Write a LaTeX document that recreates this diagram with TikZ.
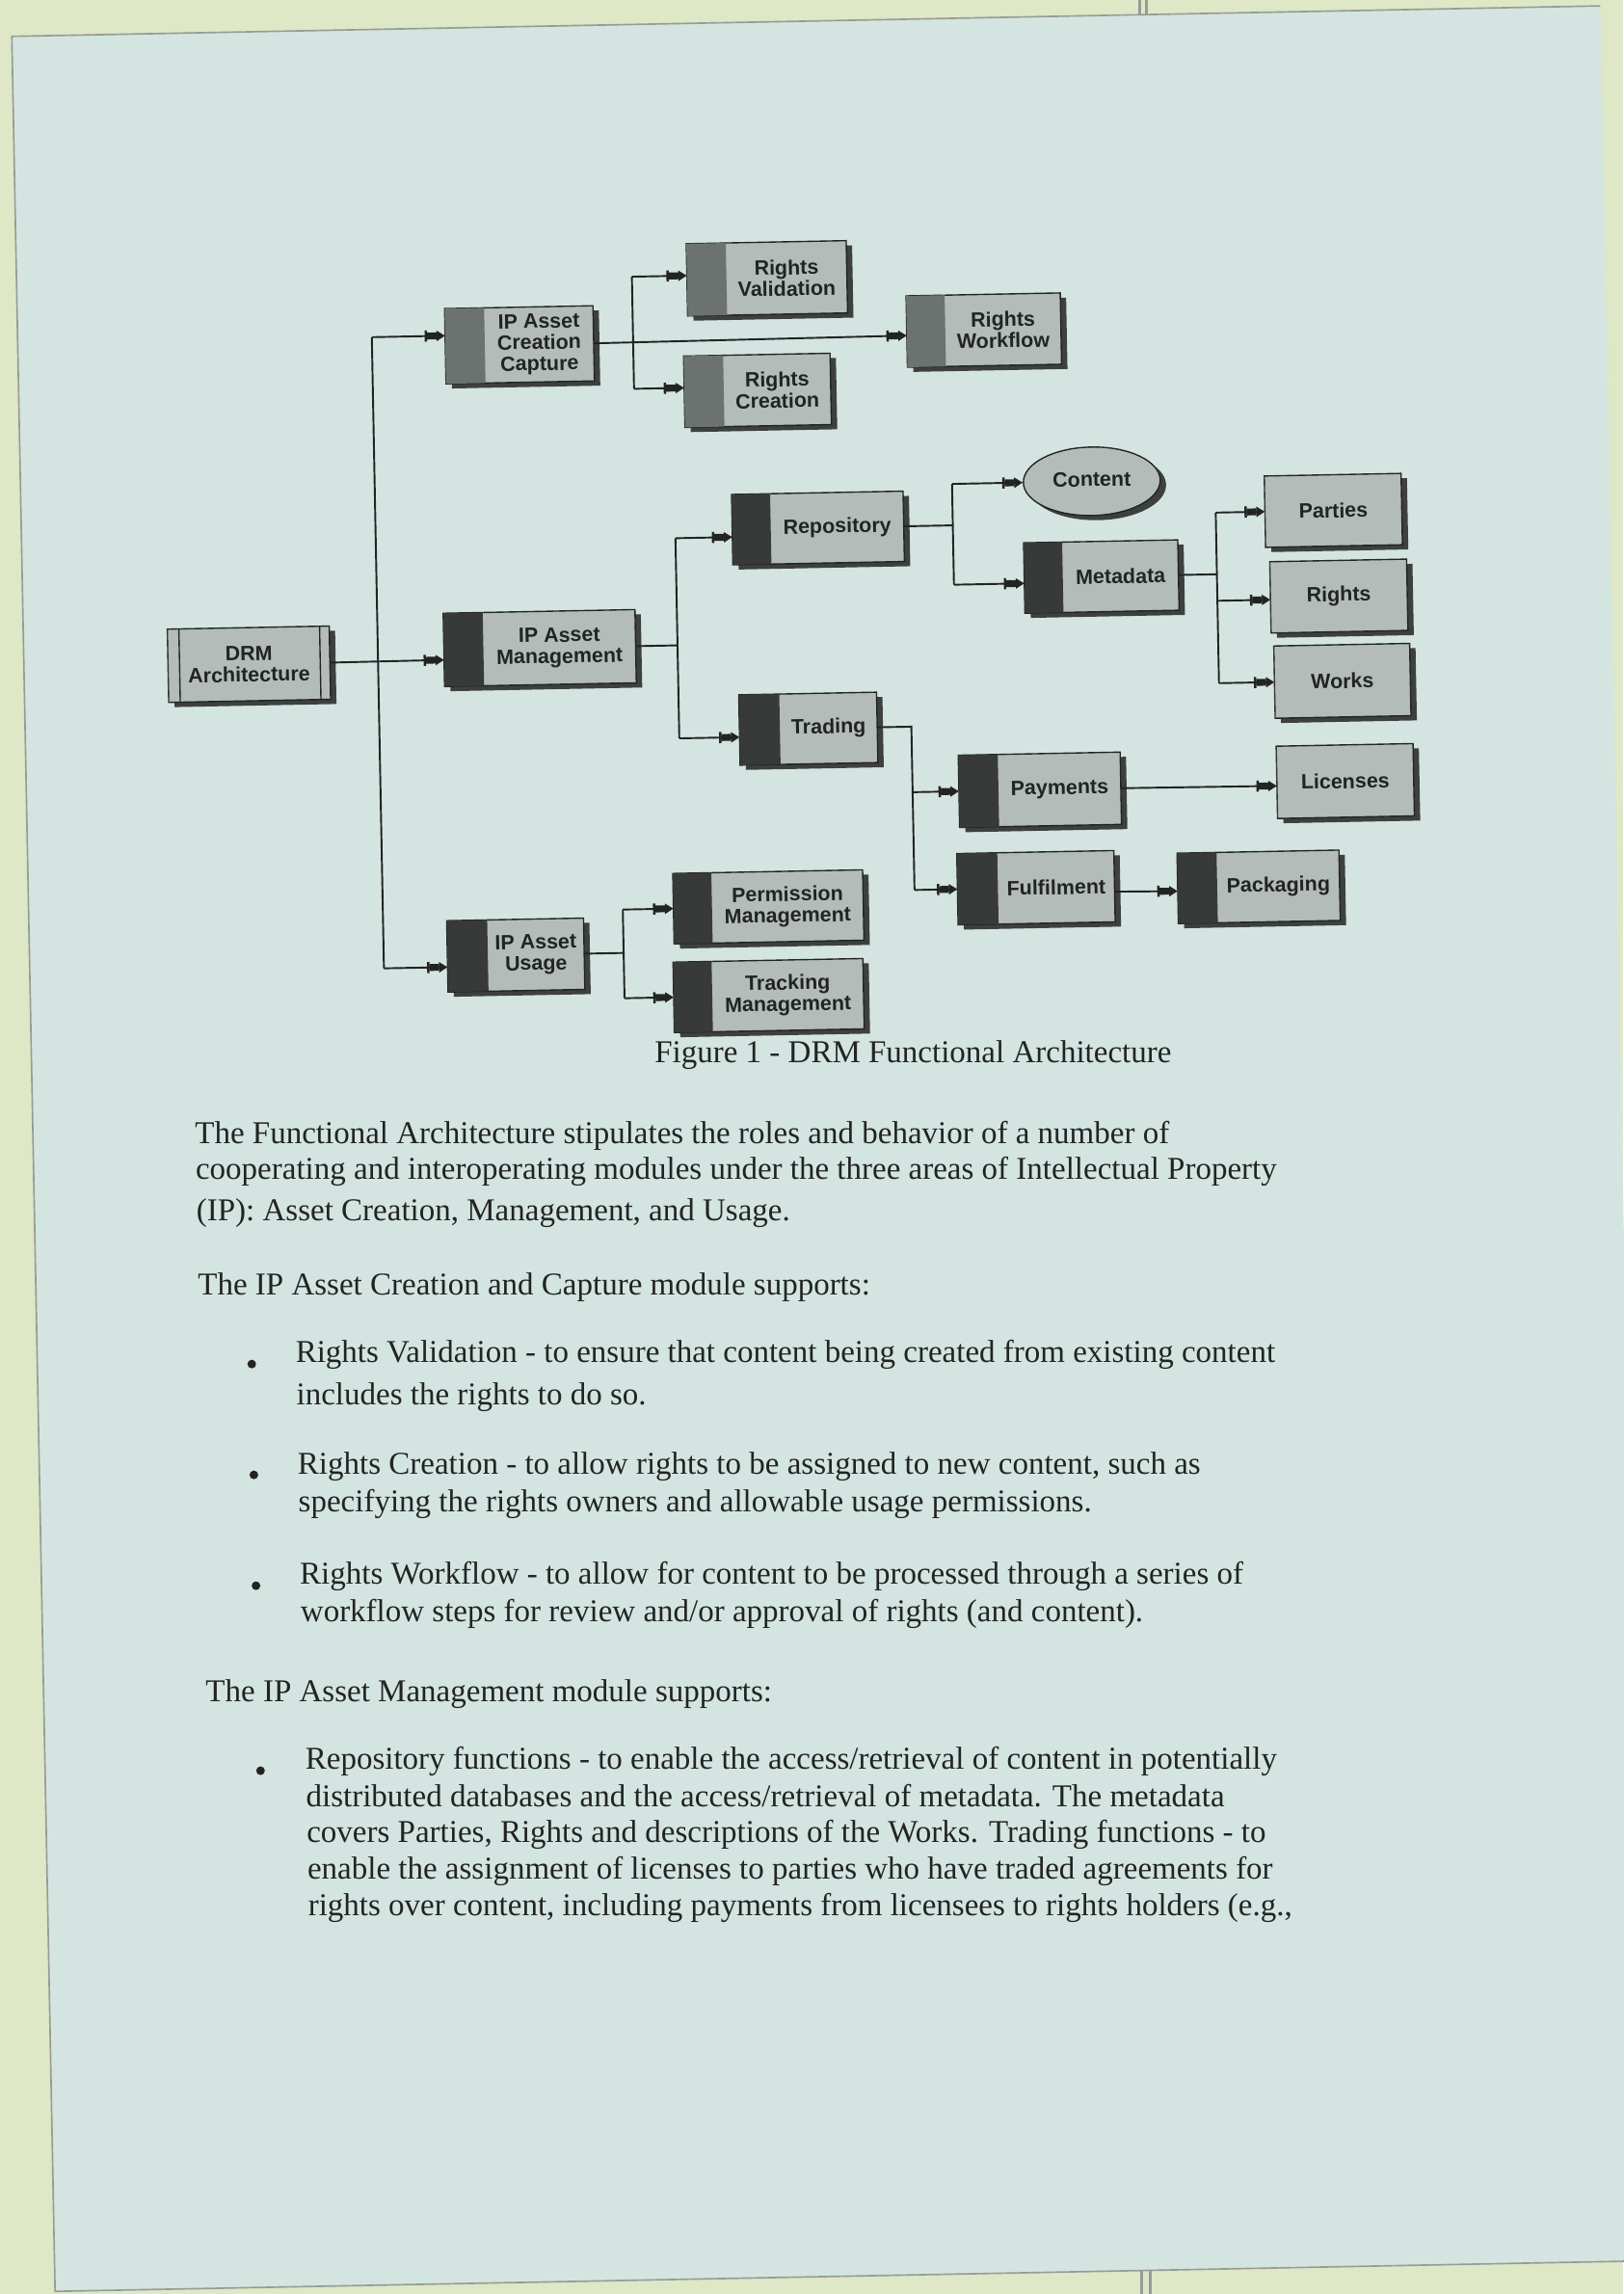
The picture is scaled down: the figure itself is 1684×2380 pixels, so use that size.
\documentclass[tikz,border=0pt]{standalone}
\usepackage{fontspec}
\setmainfont{Liberation Serif}
\newfontfamily\dsans{Liberation Sans}
\usetikzlibrary{arrows.meta,shapes.geometric}
\definecolor{marginc}{RGB}{222,231,198}
\definecolor{pagec}{RGB}{212,229,225}
\definecolor{facec}{RGB}{180,188,185}
\definecolor{darkc}{RGB}{56,58,58}
\definecolor{midc}{RGB}{108,114,112}
\definecolor{shadc}{RGB}{62,64,64}
\definecolor{inkc}{RGB}{34,36,36}
\definecolor{edgec}{RGB}{150,156,150}
\def\pxu{0.363636pt}
\tikzset{
  boxn/.style={shape=rectangle, inner sep=0pt, outer sep=0pt, transform shape},
  boxtext/.style={font=\dsans\bfseries\fontsize{7.8}{8}\selectfont, text=inkc, align=center, inner sep=0pt, transform shape},
  body/.style={font=\fontsize{12}{13.8}\selectfont, text=inkc, anchor=base west, inner sep=0pt},
  conn/.style={draw=inkc, line width=0.7pt},
  arr/.style={conn, -{Bar[width=4.2pt,line width=0.9pt]Rectangle[length=3.6pt,width=2.6pt]Triangle[length=3.2pt,width=3.8pt]}},
  bul/.style={fill=inkc},
}
% name, cx, cy, w, h, strip width, strip colour, text
\newcommand\drmbox[8]{%
  \fill[shadc] ({#2-#4/2+6},{#3-#5/2+5}) rectangle ({#2+#4/2+6},{#3+#5/2+5});
  \filldraw[fill=facec, draw=inkc, line width=0.5pt] ({#2-#4/2},{#3-#5/2}) rectangle ({#2+#4/2},{#3+#5/2});
  \fill[#7] ({#2-#4/2},{#3-#5/2}) rectangle ({#2-#4/2+#6},{#3+#5/2});
  \node[boxn, minimum width=#4*\pxu, minimum height=#5*\pxu] (#1) at (#2,#3) {};
  \node[boxtext] (#1t) at ({#2+#6/2},#3) {#8};
}
\begin{document}
\begin{tikzpicture}[x=0.363636pt, y=-0.363636pt]
\path[use as bounding box] (0,0) rectangle (1684,2380);
\fill[marginc] (0,0) rectangle (1684,2380);
\fill[edgec] (1181,0) rectangle (1184,22);
\fill[edgec] (1188,0) rectangle (1191,22);
\fill[edgec] (1183,2340) rectangle (1186,2380);
\fill[edgec] (1192,2340) rectangle (1195,2380);
\begin{scope}[rotate around={1.1:(842,1190)}]
  % page
  \fill[pagec] (34.5,22) rectangle (1683,2362);
  \draw[edgec, line width=0.6pt] (1683,22) -- (34.5,22) -- (34.5,2362) -- (1700,2362);

  % ---------- diagram boxes ----------
  \drmbox{drm}{268}{678}{168}{76}{0}{facec}{DRM\\Architecture}
  \draw[inkc, line width=0.5pt] (196,640) -- (196,716);
  \draw[inkc, line width=0.5pt] (342,640) -- (342,716);

  \drmbox{cre}{555}{352}{154}{78}{41}{midc}{IP Asset\\Creation\\Capture}
  \drmbox{mgt}{570}{667}{199}{76}{41}{darkc}{IP Asset\\Management}
  \drmbox{usg}{539}{985}{142}{74}{42}{darkc}{IP Asset\\Usage}
  \drmbox{perm}{802}{940}{197}{73}{40}{darkc}{Permission\\Management}
  \drmbox{trk}{800.5}{1032}{197}{73}{40}{darkc}{Tracking\\Management}
  \drmbox{rv}{813}{288}{166}{75}{41}{midc}{Rights\\Validation}
  \drmbox{rc}{801}{404}{152}{74}{41}{midc}{Rights\\Creation}
  \drmbox{rwf}{1037}{346}{160}{74}{40}{midc}{Rights\\Workflow}
  \drmbox{rep}{861}{548}{178}{73}{40}{darkc}{Repository}
  \drmbox{trd}{847}{756}{143}{73}{42}{darkc}{Trading}
  \drmbox{meta}{1154}{604}{160}{73}{40}{darkc}{Metadata}
  \drmbox{par}{1396}{540}{142}{74}{0}{facec}{Parties}
  \drmbox{rig}{1400}{629}{142}{74}{0}{facec}{Rights}
  \drmbox{wrk}{1402}{717}{141}{75}{0}{facec}{Works}
  \drmbox{pay}{1086}{824}{168}{75}{41}{darkc}{Payments}
  \drmbox{lic}{1403}{821}{142}{75}{0}{facec}{Licenses}
  \drmbox{ful}{1080}{925.5}{163}{74}{42}{darkc}{Fulfilment}
  \drmbox{pkg}{1311}{929}{168}{73}{41}{darkc}{Packaging}

  % content ellipse
  \fill[shadc] (1152,510) ellipse [x radius=71, y radius=35.5];
  \node[ellipse, draw=inkc, line width=0.5pt, fill=facec, inner sep=0pt, transform shape,
        minimum width=142*\pxu, minimum height=71*\pxu] (content) at (1146,505) {};
  \node[boxtext] (contentt) at (1146,503) {Content};

  % ---------- connectors ----------
  \coordinate (tt) at (402,341.2);
  \coordinate (tb) at (402,996.2);
  \draw[conn] (tt) -- (tb);
  \draw[arr] (tt) -- (cre.172);
  \draw[arr] (tb) -- (usg.189);
  \draw[arr] (drm.east) -- (mgt.186);

  \coordinate (j1t) at (673,283.65);
  \coordinate (j1b) at (673,400);
  \draw[arr] (cre.east) -- (rwf.183);
  \draw[conn] (j1t) -- (j1b);
  \draw[arr] (j1t) -- (rv.177);
  \draw[arr] (j1b) -- (rc.177);

  \coordinate (j2) at (713,667);
  \coordinate (j2t) at (713,555.8);
  \coordinate (j2b) at (713,763.5);
  \draw[conn] (mgt.east) -- (j2);
  \draw[conn] (j2t) -- (j2b);
  \draw[arr] (j2t) -- (rep.185);
  \draw[arr] (j2b) -- (trd.186);

  \coordinate (j3) at (651,985);
  \coordinate (j3t) at (651,940);
  \coordinate (j3b) at (651,1032);
  \draw[conn] (usg.east) -- (j3);
  \draw[conn] (j3t) -- (j3b);
  \draw[arr] (j3t) -- (perm.west);
  \draw[arr] (j3b) -- (trk.west);

  \coordinate (j4) at (1001,548);
  \coordinate (j4t) at (1001,505);
  \coordinate (j4b) at (1001,609.6);
  \draw[conn] (rep.east) -- (j4);
  \draw[conn] (j4t) -- (j4b);
  \draw[arr] (j4t) -- (content.west);
  \draw[arr] (j4b) -- (meta.184);

  \coordinate (j5) at (1274,604);
  \coordinate (j5t) at (1274,540);
  \coordinate (j5m) at (1274,631.5);
  \coordinate (j5b) at (1274,717);
  \draw[conn] (meta.east) -- (j5);
  \draw[conn] (j5t) -- (j5b);
  \draw[arr] (j5t) -- (par.west);
  \draw[arr] (j5m) -- (rig.182);
  \draw[arr] (j5b) -- (wrk.west);

  \coordinate (j6) at (954,756);
  \coordinate (j6m) at (954,824);
  \coordinate (j6b) at (954,925.5);
  \draw[conn] (trd.east) -- (j6) -- (j6b);
  \draw[arr] (j6m) -- (pay.west);
  \draw[arr] (j6b) -- (ful.west);

  \draw[arr] (pay.east) -- (lic.183);
  \draw[arr] (ful.356) -- (pkg.182);

  % caption
  \node[body, anchor=base] (cap) at (949,1105) {Figure 1 - DRM Functional Architecture};

  % ---------- body text ----------
  \node[body] (t1) at (202,1174.2) {The Functional Architecture stipulates the roles and behavior of a number of};
  \node[body] (t2) at (202,1211.2) {cooperating and interoperating modules under the three areas of Intellectual Property};
  \node[body] (t3) at (202,1254) {(IP): Asset Creation, Management, and Usage.};
  \node[body] (t4) at (202,1331.3) {The IP Asset Creation and Capture module supports:};
  \fill[bul] (257,1404) circle [radius=4.5];
  \node[body] (t5) at (302,1403.1) {Rights Validation - to ensure that content being created from existing content};
  \node[body] (t6) at (302,1447.5) {includes the rights to do so.};
  \fill[bul] (257,1519) circle [radius=4.5];
  \node[body] (t7) at (302,1518.9) {Rights Creation - to allow rights to be assigned to new content, such as};
  \node[body] (t8) at (302,1558) {specifying the rights owners and allowable usage permissions.};
  \fill[bul] (257,1634) circle [radius=4.5];
  \node[body] (t9) at (302,1633.5) {Rights Workflow - to allow for content to be processed through a series of};
  \node[body] (t10) at (302,1672.6) {workflow steps for review and/or approval of rights (and content).};
  \node[body] (t11) at (202,1753.3) {The IP Asset Management module supports:};
  \fill[bul] (258,1826) circle [radius=4.5];
  \node[body] (t12) at (304,1825.3) {Repository functions - to enable the access/retrieval of content in potentially};
  \node[body] (t13) at (304,1863.8) {distributed databases and the access/retrieval of metadata. The metadata};
  \node[body] (t14) at (304,1901.4) {covers Parties, Rights and descriptions of the Works. Trading functions - to};
  \node[body] (t15) at (304,1939.3) {enable the assignment of licenses to parties who have traded agreements for};
  \node[body] (t16) at (304,1977.1) {rights over content, including payments from licensees to rights holders (e.g.,};
\end{scope}
\end{tikzpicture}
\end{document}
